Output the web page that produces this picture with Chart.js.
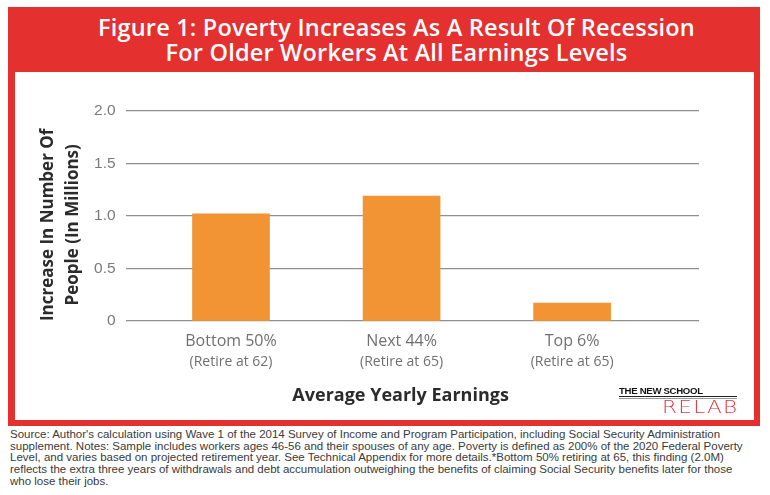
<!DOCTYPE html>
<html>
<head>
<meta charset="utf-8">
<script src="https://cdn.jsdelivr.net/npm/chart.js@4.4.1/dist/chart.umd.min.js"></script>
<style>
  html, body { margin:0; padding:0; background:#fff; }
  body { width:770px; height:495px; position:relative; overflow:hidden; font-family: "Open Sans", Lato, sans-serif; }
  #frame { position:absolute; left:8px; top:7px; width:752px; height:419px; background:#E4302F; }
  #title { position:absolute; left:8px; top:7px; width:752px; height:65px; display:flex; align-items:center; justify-content:center;
           color:#fff; font-family:"Open Sans", sans-serif; font-weight:600; font-size:23.5px; line-height:25px; text-align:center; padding-left:25px; box-sizing:border-box; letter-spacing:0.2px; }
  #panel { position:absolute; left:15px; top:72px; width:739px; height:348px; background:#fff; }
  #chartwrap { position:absolute; left:15px; top:72px; width:739px; height:348px; }
  #logo1 { position:absolute; left:619px; top:386px; font-family:"Liberation Sans", Arial, sans-serif; font-weight:bold; font-size:9.6px; letter-spacing:-0.3px; color:#111; line-height:10px; }
  #line1 { position:absolute; left:619px; top:395.5px; width:118px; height:1.3px; background:#222; }
  #line2 { position:absolute; left:619px; top:398px; width:118px; height:1.3px; background:#999; }
  #logo2 { position:absolute; left:662px; top:396.5px; font-family:"DejaVu Sans", sans-serif; font-weight:200; font-size:17px; letter-spacing:1px; color:#E2323C; line-height:20px; transform:scaleX(1.27); transform-origin:left top; }
  #note { position:absolute; left:10px; top:429px; width:760px; font-family:"Liberation Sans", sans-serif; font-size:11.5px; line-height:11.7px; color:#3a3a3a; white-space:nowrap; }
</style>
</head>
<body>
<div id="frame"></div>
<div id="title">Figure 1: Poverty Increases As A Result Of Recession<br>For Older Workers At All Earnings Levels</div>
<div id="panel"></div>
<div id="chartwrap"><canvas id="c" width="739" height="348"></canvas></div>
<div id="logo1">THE NEW SCHOOL</div>
<div id="line1"></div>
<div id="line2"></div>
<div id="logo2">RELAB</div>
<div id="note">Source: Author's calculation using Wave 1 of the 2014 Survey of Income and Program Participation, including Social Security Administration<br>supplement. Notes: Sample includes workers ages 46-56 and their spouses of any age. Poverty is defined as 200% of the 2020 Federal Poverty<br>Level, and varies based on projected retirement year. See Technical Appendix for more details.*Bottom 50% retiring at 65, this finding (2.0M)<br>reflects the extra three years of withdrawals and debt accumulation outweighing the benefits of claiming Social Security benefits later for those<br>who lose their jobs.</div>
<script>
const categories = ["Bottom 50%", "Next 44%", "Top 6%"];
const subLabels = ["(Retire at 62)", "(Retire at 65)", "(Retire at 65)"];
const values = [1.02, 1.19, 0.17];
const yTicks = [0, 0.5, 1.0, 1.5, 2.0];
const yTitle = ["Increase In Number Of", "People (In Millions)"];
const xTitle = "Average Yearly Earnings";

const points = values.map((v, i) => ({ x: i, y: v }));
const idxTicks = axis => { axis.ticks = categories.map((c, i) => ({ value: i })); };
const pad = '\u00a0\u00a0\u00a0\u00a0';

new Chart(document.getElementById('c'), {
  type: 'bar',
  data: { datasets: [{ data: points, backgroundColor: '#F29434', borderWidth: 0, barThickness: 77, xAxisID: 'x' }] },
  options: {
    responsive: false,
    animation: false,
    devicePixelRatio: 1,
    layout: { padding: { left: 0, right: 55, top: 39, bottom: 0 } },
    plugins: { legend: { display: false }, tooltip: { enabled: false } },
    scales: {
      x: {
        type: 'linear', position: 'bottom', min: -0.618, max: 2.744, weight: 0, offset: false,
        afterBuildTicks: idxTicks,
        afterFit: s => { s.height = 30; s.paddingLeft = 0; s.paddingRight = 0; },
        grid: { display: false, drawTicks: false }, border: { display: false },
        ticks: { padding: 11, color: '#707070', font: { family: 'Open Sans', size: 16 }, callback: v => categories[v] }
      },
      x2: {
        type: 'linear', position: 'bottom', min: -0.618, max: 2.744, weight: 1, offset: false,
        afterBuildTicks: idxTicks,
        afterFit: s => { s.height = 69; s.paddingLeft = 0; s.paddingRight = 0; },
        grid: { display: false, drawTicks: false }, border: { display: false },
        ticks: { padding: 3, color: '#707070', font: { family: 'Open Sans', size: 14 }, callback: v => subLabels[v] },
        title: { display: true, text: xTitle + '\u00a0\u00a0\u00a0\u00a0\u00a0', color: '#2b2b2b', font: { family: 'Open Sans', size: 18, weight: 'bold' }, padding: { top: 0, bottom: 13 } }
      },
      y: {
        min: 0, max: 2.0,
        afterBuildTicks: axis => { axis.ticks = yTicks.map(v => ({ value: v })); },
        afterFit: s => { s.width = 110.6; s.paddingTop = 0; s.paddingBottom = 0; },
        grid: { color: '#8f8f8f', lineWidth: 1.2, drawTicks: false }, border: { display: false },
        ticks: { padding: 10, color: '#7a7a7a', font: { family: 'Liberation Sans', size: 15.5 }, callback: v => v === 0 ? '0' : v.toFixed(1) },
        title: { display: true, text: [yTitle[0] + pad, yTitle[1] + pad], color: '#2b2b2b',
                 font: { family: 'Open Sans', size: 17, weight: 'bold', lineHeight: 1.47 }, padding: { top: 20.5, bottom: 0 } }
      }
    }
  }
});
</script>
</body>
</html>
